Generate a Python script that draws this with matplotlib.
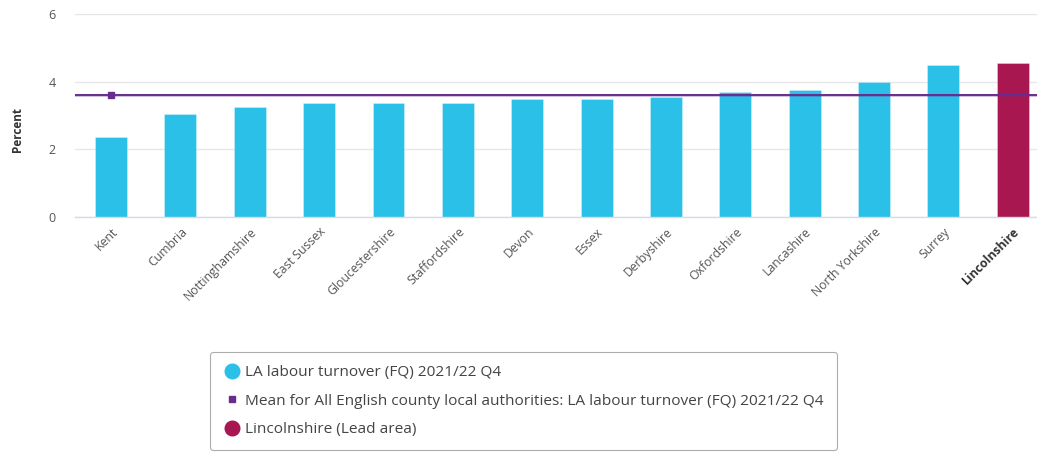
import matplotlib
matplotlib.use("Agg")
import matplotlib.pyplot as plt
from matplotlib.lines import Line2D

categories = ["Kent", "Cumbria", "Nottinghamshire", "East Sussex", "Gloucestershire",
              "Staffordshire", "Devon", "Essex", "Derbyshire", "Oxfordshire",
              "Lancashire", "North Yorkshire", "Surrey", "Lincolnshire"]
values = [2.37, 3.05, 3.25, 3.36, 3.36, 3.36, 3.48, 3.48, 3.56, 3.68, 3.76, 3.98, 4.48, 4.55]
lead_area = "Lincolnshire"
mean_value = 3.61
yticks = [0, 2, 4, 6]

series_label = "LA labour turnover (FQ) 2021/22 Q4"
mean_label = "Mean for All English county local authorities: LA labour turnover (FQ) 2021/22 Q4"
lead_label = "Lincolnshire (Lead area)"

CYAN = "#2bc0e8"
MAROON = "#a8174f"
PURPLE = "#6a2c8c"

plt.rcParams['font.family'] = ['Open Sans', 'DejaVu Sans']

fig = plt.figure(figsize=(10.37, 4.55), dpi=100)
ax = fig.add_axes([75/1037, 1 - 217/455, 1 - 75/1037, (217 - 14)/455])

x = list(range(len(categories)))
colors = [MAROON if c == lead_area else CYAN for c in categories]
ax.bar(x, values, width=0.46, color=colors, edgecolor=(1, 1, 1, 0.35), linewidth=0.6, zorder=2)

ax.axhline(mean_value, color=PURPLE, lw=2.2, zorder=3, alpha=0.3)
ax.axhline(mean_value, color=PURPLE, lw=1.4, zorder=3)
ax.plot([x[0]], [mean_value], marker='s', ms=5, color=PURPLE, zorder=4, ls='none')

ax.set_ylim(0, 6)
ax.set_xlim(-0.52, 13.35)
ax.set_yticks(yticks)
ax.set_yticklabels([str(t) for t in yticks], fontsize=9, color="#555555")
ax.yaxis.grid(True, color="#e6e6e6", lw=1)
ax.set_axisbelow(True)
ax.tick_params(axis='y', length=0, pad=14)
ax.tick_params(axis='x', length=0, pad=6)
for s in ["top", "right", "left"]:
    ax.spines[s].set_visible(False)
ax.spines["bottom"].set_color("#d5dbe8")
ax.spines["bottom"].set_linewidth(1)

ax.set_xticks(x)
ax.set_xticklabels(categories, rotation=45, ha='right', rotation_mode='anchor', fontsize=8.8, color="#555555")
for lbl in ax.get_xticklabels():
    if lbl.get_text() == lead_area:
        lbl.set_fontweight('bold')
        lbl.set_color("#333333")

fig.text(18/1037, 1 - 130/455, "Percent", rotation=90, ha='center', va='center',
         fontsize=8.5, fontweight='bold', color="#333333")

handles = [
    Line2D([], [], marker='o', ls='none', color=CYAN, ms=10.5),
    Line2D([], [], marker='s', ls='none', color=PURPLE, ms=4),
    Line2D([], [], marker='o', ls='none', color=MAROON, ms=10.5),
]
leg = fig.legend(handles, [series_label, mean_label, lead_label],
                 loc='upper left', bbox_to_anchor=(210/1037, 1 - 352/455),
                 fontsize=11.1, frameon=True, fancybox=True, edgecolor="#999999",
                 handletextpad=0.35, labelspacing=0.88, borderpad=0.85, handlelength=1.1,
                 borderaxespad=0)
for t in leg.get_texts():
    t.set_color("#444444")
leg.get_frame().set_linewidth(0.8)

fig.savefig("out.png", dpi=100)
